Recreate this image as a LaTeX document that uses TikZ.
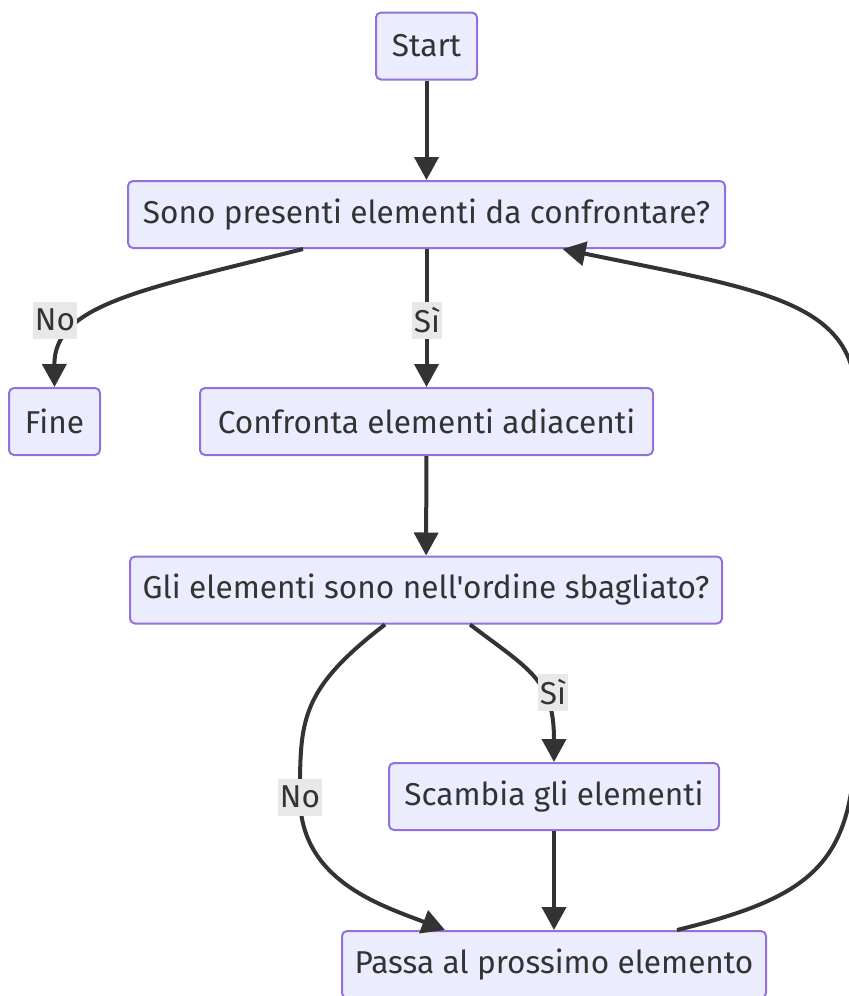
\documentclass[tikz,border=0pt]{standalone}
\usepackage{fontspec}
\setmainfont{Fira Sans}[Ligatures=TeXOff]
\usetikzlibrary{arrows.meta, positioning}
\definecolor{nodefill}{HTML}{ECECFF}
\definecolor{nodeline}{HTML}{9370DB}
\definecolor{edgeline}{HTML}{333333}
\definecolor{labelfill}{HTML}{E8E8E8}

\begin{document}
\begin{tikzpicture}[x=0.5pt, y=-0.5pt,
    box/.style={draw=nodeline, line width=1pt, fill=nodefill, rounded corners=2.5pt,
        minimum height=33.5pt, inner xsep=4pt, text=edgeline,
        font=\fontsize{15.8}{19}\selectfont},
    flow/.style={draw=edgeline, line width=2pt, -{Triangle[length=11.5pt, width=12pt]}},
    tag/.style={fill=labelfill, inner xsep=1pt, inner ysep=0pt, minimum height=18.5pt,
        text=edgeline, font=\fontsize{15.8}{19}\selectfont}]
    \useasboundingbox (0,0) rectangle (849,996);

    % Nodes
    \node[box, minimum width=50.5pt] (start) at (426.5,46) {Start};
    \node[box, minimum width=298.5pt] (check) at (426.5,214.5) {Sono presenti elementi da confrontare?};
    \node[box, minimum width=45.5pt] (fine) at (54.5,421.5) {Fine};
    \node[box, minimum width=226.5pt] (compare) at (426.5,421.5) {Confronta elementi adiacenti};
    \node[box, minimum width=296pt] (order) at (426,590) {Gli elementi sono nell'ordine sbagliato?};
    \node[box, minimum width=165pt] (swap) at (554,796.5) {Scambia gli elementi};
    \node[box, minimum width=212pt] (next) at (554,964.5) {Passa al prossimo elemento};

    % Arrows
    \draw[flow] (start) -- (check);
    \draw[flow] ([xshift=-61.75pt]check.south) .. controls (140,290) and (54,305) .. (fine.north);
    \draw[flow] (check) -- (compare);
    \draw[flow] (compare) -- (order);
    \draw[flow] ([xshift=22pt]order.south) .. controls (530,670) and (554,680) .. (swap.north);
    \draw[flow] ([xshift=-20.5pt]order.south) .. controls (300,690) and (300,720) .. (300,797)
          .. controls (300,880) and (380,905) .. ([xshift=-54.5pt]next.north);
    \draw[flow] (swap) -- (next);
    \draw[flow] ([xshift=61.5pt]next.north) .. controls (820,895) and (856,860) .. (856,720)
          -- (856,400) .. controls (856,300) and (760,290) .. ([xshift=68pt]check.south);

    % Edge labels
    \node[tag] (no1) at (55,320) {No};
    \node[tag] (si1) at (427,320) {Sì};
    \node[tag] (si2) at (553,692) {Sì};
    \node[tag] (no2) at (300,797) {No};
\end{tikzpicture}
\end{document}
